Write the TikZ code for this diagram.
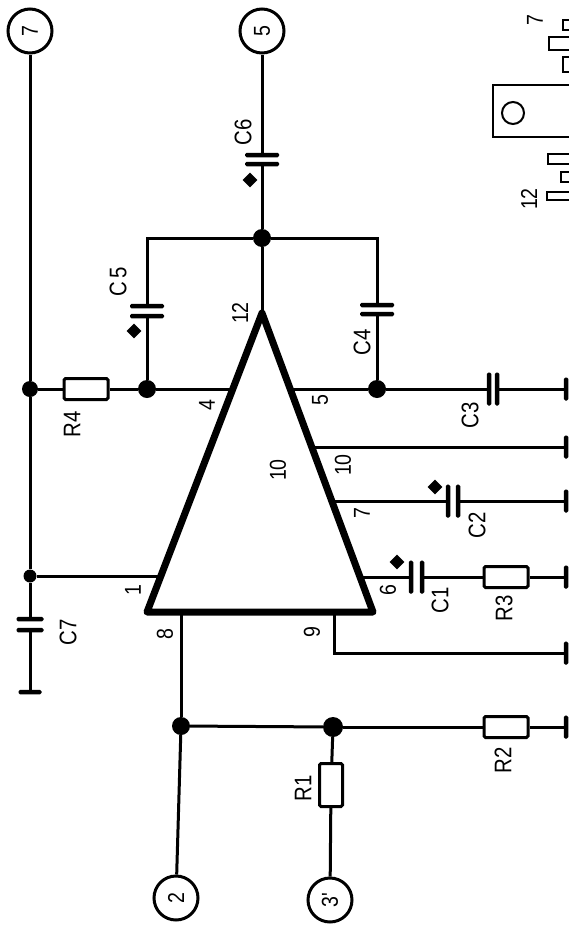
\documentclass[tikz,border=0pt]{standalone}
\usepackage{fontspec}
\setmainfont{Liberation Sans}
\newfontfamily\lblfont[FakeStretch=0.85]{Liberation Sans}
\usetikzlibrary{shapes,positioning,calc}

\begin{document}
\begin{tikzpicture}[x=1pt,y=-1pt]
  \tikzstyle{wire}=[-, line width=3pt, black]
  \tikzstyle{joint}=[circle, fill=black, inner sep=0pt, minimum size=18pt]
  \tikzstyle{terminal}=[circle, draw=black, fill=white, line width=3pt, inner sep=0pt, minimum size=44pt, rotate=90, font=\lblfont\fontsize{23}{23}\selectfont]
  \tikzstyle{resv}=[rectangle, draw=black, fill=white, line width=3pt, rounded corners=1.5pt, inner sep=0pt, minimum width=23pt, minimum height=43pt]
  \tikzstyle{resh}=[rectangle, draw=black, fill=white, line width=3pt, rounded corners=1.5pt, inner sep=0pt, minimum width=44pt, minimum height=21pt]
  \tikzstyle{platev}=[rectangle, fill=black, rounded corners=1.5pt, inner sep=0pt, minimum width=4.5pt, minimum height=33pt]
  \tikzstyle{plateh}=[rectangle, fill=black, rounded corners=1.5pt, inner sep=0pt, minimum width=34pt, minimum height=4.5pt]
  \tikzstyle{gndv}=[rectangle, fill=black, rounded corners=1.5pt, inner sep=0pt, minimum width=4.5pt, minimum height=23pt]
  \tikzstyle{gndh}=[rectangle, fill=black, rounded corners=1.5pt, inner sep=0pt, minimum width=23pt, minimum height=4.5pt]
  \tikzstyle{plus}=[diamond, fill=black, inner sep=0pt, minimum size=15pt]
  \tikzstyle{partlbl}=[rotate=90, inner sep=0pt, font=\lblfont\fontsize{24}{24}\selectfont]
  \tikzstyle{pinlbl}=[rotate=90, inner sep=0pt, font=\lblfont\fontsize{23}{23}\selectfont]

  \useasboundingbox (0,0) rectangle (569,926);

  % Terminales
  \node[terminal] (t7) at (30,31) {7};
  \node[terminal] (t5) at (262,31) {5};
  \node[terminal] (t2) at (176,898) {2};
  \node[terminal] (t3) at (330,900) {3'};

  % Uniones
  \node[joint] (j12) at (262,238) {};
  \node[joint] (j5) at (377,389) {};
  \node[joint] (j4) at (147,389) {};
  \node[joint, minimum size=16pt] (jr4) at (30,389) {};
  \node[joint, minimum size=13pt] (j1) at (30,576) {};
  \node[joint] (j8) at (181,726) {};
  \node[joint, minimum size=20pt] (jr1) at (333,727) {};

  % Patillas del triangulo
  \coordinate (apex) at (262,313);
  \coordinate (cnrL) at (147,612);
  \coordinate (cnrR) at (373,612);
  \coordinate (p1) at (160,576);
  \coordinate (p4) at (233,389);
  \coordinate (p5) at (290,389);
  \coordinate (p10) at (312,447);
  \coordinate (p7) at (332,501);
  \coordinate (p6) at (360,577);
  \coordinate (p8) at (181,612);
  \coordinate (p9) at (334,612);
  \coordinate (k9) at (334,653);
  \coordinate (k12) at (147,238);
  \coordinate (k12b) at (377,238);

  % Resistencias
  \node[resv] (R1) at (331,785) {};
  \node[resh] (R2) at (506,727) {};
  \node[resh] (R3) at (506,577) {};
  \node[resh] (R4) at (86,389) {};

  % Condensadores
  \node[platev] (C1a) at (411,577) {};
  \node[platev] (C1b) at (422,577) {};
  \node[platev] (C2a) at (448,501) {};
  \node[platev] (C2b) at (458,501) {};
  \node[platev] (C3a) at (489,389) {};
  \node[platev] (C3b) at (497,389) {};
  \node[plateh] (C4a) at (377,305) {};
  \node[plateh] (C4b) at (377,314) {};
  \node[plateh] (C5a) at (147,306) {};
  \node[plateh] (C5b) at (147,316) {};
  \node[plateh] (C6a) at (262,155) {};
  \node[plateh] (C6b) at (262,164) {};
  \node[plateh, minimum width=27pt] (C7a) at (30,619) {};
  \node[plateh, minimum width=27pt] (C7b) at (30,630) {};

  % Signos mas
  \node[plus] (sC1) at (397,562) {};
  \node[plus] (sC2) at (435,487) {};
  \node[plus] (sC5) at (134,331) {};
  \node[plus] (sC6) at (250,180) {};

  % Masas
  \node[gndv] (g3) at (566,389) {};
  \node[gndv] (g10) at (566,447) {};
  \node[gndv] (g2) at (566,501) {};
  \node[gndv] (g6) at (566,577) {};
  \node[gndv] (g9) at (566,653) {};
  \node[gndv] (gR2) at (566,727) {};
  \node[gndh] (g7) at (30,692) {};

  % Conexiones
  \draw[wire] (t7) -- (jr4);
  \draw[wire] (jr4) -- (j1);
  \draw[wire] (j1) -- (C7a);
  \draw[wire] (C7b) -- (g7);
  \draw[wire] (j1) -- (p1);
  \draw[wire] (jr4) -- (R4);
  \draw[wire] (R4) -- (j4);
  \draw[wire] (j4) -- (p4);
  \draw[wire] (j4) -- (C5b);
  \draw[wire] (C5a) -- (k12) -- (j12);
  \draw[wire] (t5) -- (C6a);
  \draw[wire] (C6b) -- (j12);
  \draw[wire] (j12) -- (apex);
  \draw[wire] (j12) -- (k12b) -- (C4a);
  \draw[wire] (C4b) -- (j5);
  \draw[wire] (p5) -- (j5);
  \draw[wire] (j5) -- (C3a);
  \draw[wire] (C3b) -- (g3);
  \draw[wire] (p10) -- (g10);
  \draw[wire] (p7) -- (C2a);
  \draw[wire] (C2b) -- (g2);
  \draw[wire] (p6) -- (C1a);
  \draw[wire] (C1b) -- (R3);
  \draw[wire] (R3) -- (g6);
  \draw[wire] (p9) -- (k9) -- (g9);
  \draw[wire] (p8) -- (j8);
  \draw[wire] (j8) -- (t2);
  \draw[wire] (j8) -- (jr1);
  \draw[wire] (jr1) -- (R2);
  \draw[wire] (R2) -- (gR2);
  \draw[wire] (jr1) -- (R1);
  \draw[wire] (R1) -- (t3);

  % Triangulo
  \draw[line width=7pt, line join=round] (apex) -- (cnrL) -- (cnrR) -- cycle;

  % Rotulos
  \node[partlbl] (lC1) at (440,600) {C1};
  \node[partlbl] (lC2) at (477,525) {C2};
  \node[partlbl] (lC3) at (470,415) {C3};
  \node[partlbl] (lC4) at (362,342) {C4};
  \node[partlbl] (lC5) at (118,282) {C\kern3pt 5};
  \node[partlbl] (lC6) at (243,132) {C6};
  \node[partlbl] (lC7) at (68,632) {C7};
  \node[partlbl] (lR1) at (303,788) {R1};
  \node[partlbl] (lR2) at (503,760) {R2};
  \node[partlbl] (lR3) at (504,608) {R3};
  \node[partlbl] (lR4) at (72,424) {R4};
  \node[pinlbl] (l1) at (133,590) {1};
  \node[pinlbl] (l4) at (207,405) {4};
  \node[pinlbl] (l5) at (320,400) {5};
  \node[pinlbl] (l6) at (388,590) {6};
  \node[pinlbl] (l7) at (362,513) {7};
  \node[pinlbl] (l8) at (165,634) {8};
  \node[pinlbl] (l9) at (312,632) {9};
  \node[pinlbl] (l10) at (343,465) {10};
  \node[pinlbl] (l12) at (240,313) {12};
  \node[pinlbl] (l10c) at (278,470) {10};

  % Encapsulado
  \draw[line width=2pt] (569,85) -- (493,85) -- (493,137) -- (569,137);
  \draw[line width=2pt] (513,113) circle (11);
  \draw[line width=2.4pt] (569,20) -- (563,20) -- (563,30) -- (569,30);
  \draw[line width=2.4pt] (569,37) -- (549,37) -- (549,50) -- (569,50);
  \draw[line width=2.4pt] (569,57) -- (563,57) -- (563,72) -- (569,72);
  \draw[line width=2.4pt] (569,154) -- (548,154) -- (548,164) -- (569,164);
  \draw[line width=2.4pt] (569,172) -- (561,172) -- (561,182) -- (569,182);
  \draw[line width=2.4pt] (569,192) -- (547,192) -- (547,200) -- (569,200);
  \node[pinlbl] (pk12) at (529,199) {12};
  \node[pinlbl] (pk7) at (535,20) {7};
\end{tikzpicture}
\end{document}
